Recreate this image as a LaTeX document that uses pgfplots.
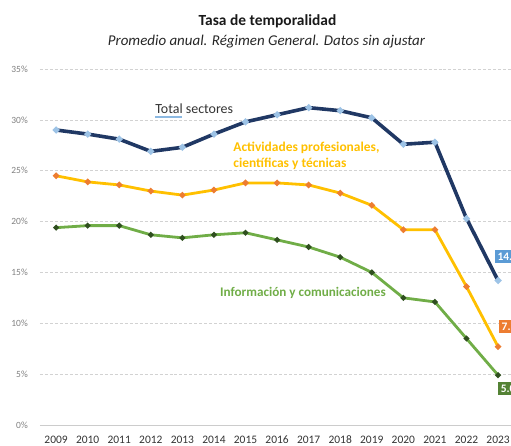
\documentclass[border=0pt]{standalone}
\usepackage{pgfplots}
\pgfplotsset{compat=1.18}
\usepackage{fontspec}
\setmainfont{Carlito}
\definecolor{navy}{HTML}{203864}
\definecolor{navymk}{HTML}{9DC3E6}
\definecolor{gold}{HTML}{FFC000}
\definecolor{goldmk}{HTML}{ED7D31}
\definecolor{grn}{HTML}{70AD47}
\definecolor{grnmk}{HTML}{2F4F1F}
\definecolor{boxblue}{HTML}{5B9BD5}
\definecolor{boxorange}{HTML}{ED7D31}
\definecolor{boxgreen}{HTML}{548235}
\definecolor{txt}{HTML}{333333}
\begin{document}
\begin{tikzpicture}[x=1bp,y=1bp]
\clip (-40,-21) rectangle (471,425);
\path[use as bounding box] (-40,-21) rectangle (471,425);
\begin{axis}[
  at={(0,0)}, anchor=origin,
  scale only axis, width=471bp, height=356bp,
  xmin=2008.49, xmax=2023.41, ymin=0, ymax=35,
  axis lines=none,
  clip=false,
  /pgf/number format/assume math mode=true,
]
\foreach \v in {5,10,...,35} {
  \edef\tmp{\noexpand\draw[densely dashed, gray!35, line width=0.5bp] (axis cs:2008.49,\v) -- (axis cs:2023.41,\v);}
  \tmp
}
\draw[gray!40, line width=0.8bp] (axis cs:2008.49,0) -- (axis cs:2023.41,0);
\addplot[navy, line width=3.6bp, mark=*, mark size=1.2bp, mark options={fill=navymk, draw=navymk}] coordinates {
(2009,29.0) (2010,28.6) (2011,28.1) (2012,26.9) (2013,27.3) (2014,28.6) (2015,29.8) (2016,30.5) (2017,31.2) (2018,30.9) (2019,30.2) (2020,27.6) (2021,27.8) (2022,20.3) (2023,14.2)};
\addplot[gold, line width=2.8bp, mark=*, mark size=1.5bp, mark options={fill=goldmk, draw=goldmk}] coordinates {
(2009,24.5) (2010,23.9) (2011,23.6) (2012,23.0) (2013,22.6) (2014,23.1) (2015,23.8) (2016,23.8) (2017,23.6) (2018,22.8) (2019,21.6) (2020,19.2) (2021,19.2) (2022,13.6) (2023,7.7)};
\addplot[grn, line width=2.8bp, mark=*, mark size=1.2bp, mark options={fill=grnmk, draw=grnmk}] coordinates {
(2009,19.4) (2010,19.6) (2011,19.6) (2012,18.7) (2013,18.4) (2014,18.7) (2015,18.9) (2016,18.2) (2017,17.5) (2018,16.5) (2019,15.0) (2020,12.5) (2021,12.1) (2022,8.5) (2023,4.9)};
% y tick labels
\foreach \v in {0,5,...,35} {
  \edef\tmp{\noexpand\node[anchor=east, text=gray, font=\noexpand\fontsize{9.5}{11}\noexpand\selectfont, inner sep=0pt] at (axis cs:2008.49,\v) [xshift=-12bp] {\v\noexpand\%};}
  \tmp
}
% x tick labels
\foreach \yr in {2009,...,2023} {
  \edef\tmp{\noexpand\node[text=txt, font=\noexpand\fontsize{11.5}{13}\noexpand\selectfont, inner sep=0pt] at (axis cs:\yr,0) [yshift=-15bp] {\yr};}
  \tmp
}
% series labels
\node[anchor=west, inner sep=0pt, text=txt, font=\fontsize{14}{16}\selectfont] (ts) at (axis cs:2012.14,31.07) {Total sectores};
\draw[boxblue!70, line width=0.4bp] ([yshift=-2bp]ts.south west) -- ++(27bp,0bp);
\draw[boxblue!70, line width=0.4bp] ([yshift=-3.5bp]ts.south west) -- ++(27bp,0bp);
\node[anchor=west, inner sep=0pt, text=gold, align=left, font=\bfseries\fontsize{13.5}{16}\selectfont] at (axis cs:2014.61,26.45) {Actividades profesionales,\\científicas y técnicas};
\node[anchor=west, inner sep=0pt, text=grn, font=\bfseries\fontsize{13.2}{15}\selectfont] at (axis cs:2014.19,12.98) {Información y comunicaciones};
% data label boxes
\node[anchor=west, fill=boxblue, text=white, inner sep=2.5bp, font=\bfseries\fontsize{11.5}{13}\selectfont] at (axis cs:2022.9,16.6) {14.2\%};
\node[anchor=west, fill=boxorange, text=white, inner sep=2.5bp, font=\bfseries\fontsize{11.5}{13}\selectfont] at (axis cs:2023.03,9.7) {7.7\%};
\node[anchor=west, fill=boxgreen, text=white, inner sep=2.5bp, font=\bfseries\fontsize{11.5}{13}\selectfont] at (axis cs:2023.0,3.6) {5.0\%};
\end{axis}
% titles
\node[font=\bfseries\fontsize{15.5}{17}\selectfont, text=black!90] at (227.5,404) {Tasa de temporalidad};
\node[font=\itshape\fontsize{15}{17}\selectfont, text=black!85] at (226.5,383.5) {Promedio anual. Régimen General. Datos sin ajustar};
\end{tikzpicture}
\end{document}
